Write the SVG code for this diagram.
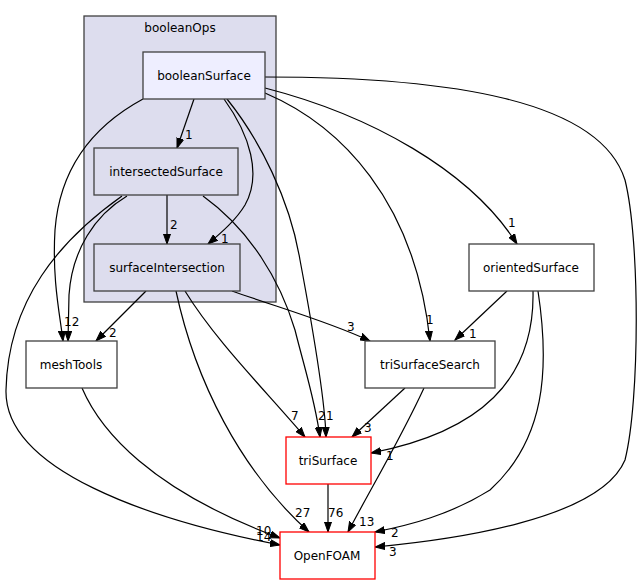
<svg xmlns="http://www.w3.org/2000/svg" width="640" height="585" viewBox="0 0 640 585">
<style>
text{font-family:"DejaVu Sans","Liberation Sans",sans-serif;font-size:12px;fill:#000}
.lbl{text-anchor:middle}
.el{font-size:12px}
.node{stroke:#404040;stroke-width:1.3;fill:#fff}
.sub{fill:#ddddee}
.main{fill:#eeeeff}
.red{stroke:#ff0000}
.edge{fill:none;stroke:#000;stroke-width:1.2;marker-end:url(#ah)}
</style>
<defs>
<marker id="ah" markerUnits="userSpaceOnUse" markerWidth="11" markerHeight="8" refX="10" refY="4" orient="auto">
<path d="M0,0.5 L10,4 L0,7.5 z" fill="#000" stroke="#000" stroke-width="1"/>
</marker>
</defs>
<rect width="640" height="585" fill="#fff"/>
<g id="cluster_booleanOps">
<rect x="84" y="16" width="192" height="286" fill="#ddddee" stroke="#404040" stroke-width="1.3"/>
<text class="lbl" x="180" y="32">booleanOps</text>
</g>
<g id="edges">
<path class="edge" d="M194,99 L177,148"/>
<text class="el" x="185" y="139">1</text>
<path class="edge" d="M224,99 C250,135 262,175 245,205 C236,220 222,232 208,244"/>
<text class="el" x="221" y="243">1</text>
<path class="edge" d="M167,195 L167,244"/>
<text class="el" x="170" y="229">2</text>
<path class="edge" d="M143,99 C95,125 60,165 55,230 C52,280 60,315 63,341"/>
<path class="edge" d="M127,196 C95,215 72,250 69,295 L68,341"/>
<text class="el" x="64" y="326">12</text>
<path class="edge" d="M122,196 C60,240 8,300 6,390 C4,470 150,520 280,545"/>
<path class="edge" d="M82,388 C100,430 150,490 280,538"/>
<text class="el" x="256" y="535">10</text>
<text class="el" x="256" y="541">14</text>
<path class="edge" d="M146,291 L96,341"/>
<text class="el" x="109" y="337">2</text>
<path class="edge" d="M185,291 C215,340 265,390 305,437"/>
<text class="el" x="291" y="420">7</text>
<path class="edge" d="M176,291 C195,380 240,470 309,532"/>
<text class="el" x="295" y="517">27</text>
<path class="edge" d="M232,291 C280,308 330,322 370,341"/>
<text class="el" x="347" y="331">3</text>
<path class="edge" d="M203,196 C250,230 280,280 295,330 C305,370 315,400 320,437"/>
<text class="el" x="318" y="420">2</text>
<path class="edge" d="M227,99 C260,140 290,200 300,260 C315,340 325,400 326,437"/>
<text class="el" x="326" y="420">1</text>
<path class="edge" d="M265,93 C340,125 415,200 430,341"/>
<text class="el" x="426" y="324">1</text>
<path class="edge" d="M265,88 C370,115 470,170 517,244"/>
<text class="el" x="508" y="227">1</text>
<path class="edge" d="M265,77 C450,77 600,100 625,180 C640,240 640,400 625,460 C600,520 450,540 375,547"/>
<text class="el" x="389" y="556">3</text>
<path class="edge" d="M507,291 L455,340"/>
<text class="el" x="469" y="338">1</text>
<path class="edge" d="M533,291 C535,380 480,432 371,453"/>
<text class="el" x="386" y="460">1</text>
<path class="edge" d="M538,291 C550,370 545,440 490,490 C450,515 410,525 375,532"/>
<text class="el" x="391" y="537">2</text>
<path class="edge" d="M405,388 L352,437"/>
<text class="el" x="364" y="432">3</text>
<path class="edge" d="M424,388 C400,440 370,490 348,532"/>
<text class="el" x="359" y="526">13</text>
<path class="edge" d="M328,484 L328,532"/>
<text class="el" x="328" y="517">76</text>
</g>
<g id="node_booleanSurface">
<rect class="node main" x="143" y="52" width="122" height="47"/>
<text class="lbl" x="204" y="80">booleanSurface</text>
</g>
<g id="node_intersectedSurface">
<rect class="node sub" x="94" y="148" width="144" height="47"/>
<text class="lbl" x="166" y="176">intersectedSurface</text>
</g>
<g id="node_surfaceIntersection">
<rect class="node sub" x="94" y="244" width="146" height="47"/>
<text class="lbl" x="167" y="272">surfaceIntersection</text>
</g>
<g id="node_orientedSurface">
<rect class="node" x="469" y="244" width="125" height="47"/>
<text class="lbl" x="531" y="272">orientedSurface</text>
</g>
<g id="node_meshTools">
<rect class="node" x="26" y="341" width="91" height="47"/>
<text class="lbl" x="71" y="369">meshTools</text>
</g>
<g id="node_triSurfaceSearch">
<rect class="node" x="365" y="341" width="130" height="47"/>
<text class="lbl" x="430" y="369">triSurfaceSearch</text>
</g>
<g id="node_triSurface">
<rect class="node red" x="286" y="437" width="85" height="47"/>
<text class="lbl" x="328" y="465">triSurface</text>
</g>
<g id="node_OpenFOAM">
<rect class="node red" x="280" y="532" width="95" height="47"/>
<text class="lbl" x="327" y="560">OpenFOAM</text>
</g>
</svg>
